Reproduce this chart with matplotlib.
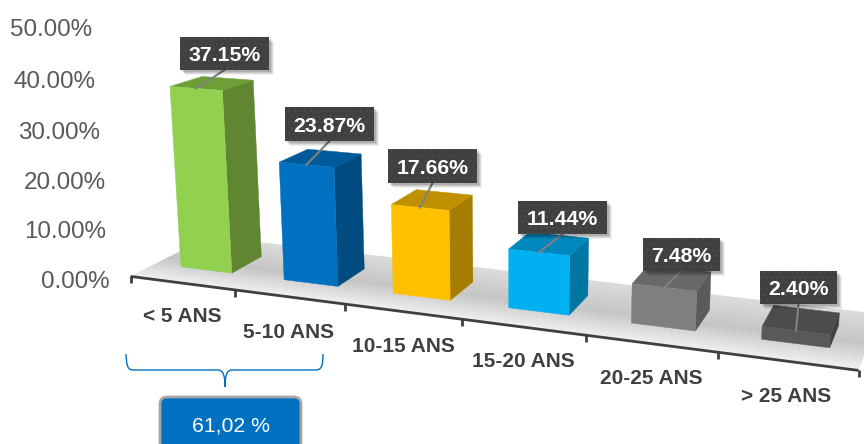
import numpy as np
import matplotlib
matplotlib.use("Agg")
import matplotlib.pyplot as plt
from matplotlib.patches import Polygon, Rectangle, FancyBboxPatch, PathPatch
from matplotlib.path import Path

plt.rcParams['font.family'] = ['Liberation Sans', 'DejaVu Sans']

# ---- data ----
categories = ["< 5 ANS", "5-10 ANS", "10-15 ANS", "15-20 ANS", "20-25 ANS", "> 25 ANS"]
values = [37.15, 23.87, 17.66, 11.44, 7.48, 2.40]
value_ticks = [0, 10, 20, 30, 40, 50]
total_label = "61,02 %"

# ---- style ----
front_colors = ["#92D050", "#0070C0", "#FFC000", "#00B0F0", "#7F7F7F", "#595959"]
side_colors = ["#608632", "#004B80", "#A67D00", "#0076A3", "#5A5A5A", "#404040"]
top_colors = ["#6E9E37", "#005A99", "#BF9000", "#0088BC", "#686868", "#4C4C4C"]

# ---- layout in image pixels ----
D0, D1 = 0.30, 0.70      # bar depth range on the floor
GAP = 0.25               # side gap in category units
tick_label_xy = [(109.5, 279), (106.5, 229), (105.5, 180), (100.5, 130), (96, 79), (92, 27)]
cat_label_xy = [(182, 314), (289, 330), (403, 344), (523, 359), (651, 376), (786, 394)]
box_centers = [(224.5, 53.5), (329.5, 124), (432.5, 166), (562.5, 217.5), (681.5, 254.5), (798.5, 287.5)]
box_sizes = [(89, 33), (89, 34), (89, 34), (89, 33), (77, 33), (77, 33)]

# perspective camera, calibrated on (category, depth, value) -> pixel
calib = [
    (0, 0, 0, 131, 277), (1, 0, 0, 235, 292), (2, 0, 0, 345, 305), (3, 0, 0, 462, 320),
    (4, 0, 0, 586, 337), (5, 0, 0, 718, 353), (6, 0, 0, 858, 372),
]
corners = [
    [(170, 87), (222, 91), (253, 80), (202, 77), (181, 267), (232, 273), (261, 256)],
    [(279, 162), (334, 167), (361, 154), (309, 149), (283, 279), (338, 286), (364, 268)],
    [(391, 204), (449, 210), (472, 195), (417, 189), (393, 293), (451, 299), (473, 281)],
    [(509, 249), (570, 253), (589, 237), (530, 233), (509, 307), (569, 315), (587, 296)],
    [(632, 283), (696, 289), (711, 272), (650, 270), (631, 323), (695, 330), (710, 311)],
    [(763, 325), (831, 334), (839, 312), (772, 310), (761, 338), (830, 347), (839, 325)],
]
for i, c in enumerate(corners):
    v = values[i]
    ul, ur = i + GAP, i + 1 - GAP
    world = [(ul, D0, v), (ur, D0, v), (ur, D1, v), (ul, D1, v), (ul, D0, 0), (ur, D0, 0), (ur, D1, 0)]
    for w, p in zip(world, c):
        calib.append((*w, *p))

A, b = [], []
for u, d, z, px, py in calib:
    A.append([u, d, z, 1, 0, 0, 0, 0, -px * u, -px * d, -px * z]); b.append(px)
    A.append([0, 0, 0, 0, u, d, z, 1, -py * u, -py * d, -py * z]); b.append(py)
P = np.append(np.linalg.lstsq(np.array(A, float), np.array(b, float), rcond=None)[0], 1.0).reshape(3, 4)


def proj(u, d, z):
    h = P @ np.array([u, d, z, 1.0])
    return h[0] / h[2], h[1] / h[2]


fig = plt.figure(figsize=(8.64, 4.44), dpi=100)
ax = fig.add_axes([0, 0, 1, 1])
ax.set_xlim(0, 864)
ax.set_ylim(444, 0)
ax.axis('off')

# floor with depth gradient: light at the axis, darkest mid-way, lighter at the back
n_strip = 60
for k in range(n_strip):
    d_a, d_b = k / n_strip, (k + 1) / n_strip
    g = np.interp((k + .5) / n_strip, [0, 0.12, 0.45, 1], [0.95, 0.90, 0.77, 0.86])
    col = (g, g, g)
    ax.add_patch(Polygon([proj(0, d_a, 0), proj(6, d_a, 0), proj(6, d_b, 0), proj(0, d_b, 0)],
                         facecolor=col, edgecolor=col, lw=0.4, zorder=1))

# category axis
ax.plot(*zip(proj(0, 0, 0), proj(6, 0, 0)), color="#404040", lw=2.0, zorder=3, solid_capstyle='butt')
for i in range(len(categories) + 1):
    x, y = proj(i, 0, 0)
    ax.plot([x, x], [y, y + 7], color="#404040", lw=2.0, zorder=3, solid_capstyle='butt')

# bars
for i, v in enumerate(values):
    ul, ur = i + GAP, i + 1 - GAP
    ax.add_patch(Polygon([proj(ur, D0, 0), proj(ur, D1, 0), proj(ur, D1, v), proj(ur, D0, v)],
                         facecolor=side_colors[i], edgecolor=side_colors[i], lw=0.3, zorder=4))
    ax.add_patch(Polygon([proj(ul, D0, v), proj(ur, D0, v), proj(ur, D1, v), proj(ul, D1, v)],
                         facecolor=top_colors[i], edgecolor=top_colors[i], lw=0.3, zorder=4))
    ax.add_patch(Polygon([proj(ul, D0, 0), proj(ur, D0, 0), proj(ur, D0, v), proj(ul, D0, v)],
                         facecolor=front_colors[i], edgecolor=front_colors[i], lw=0.3, zorder=5))

# data labels
plt.rcParams['hatch.linewidth'] = 0.6
for i, v in enumerate(values):
    cx, cy = box_centers[i]
    w, h = box_sizes[i]
    x0, y0 = cx - w / 2, cy - h / 2
    ax.plot(*zip(proj(i + .5, D0, v), (cx, y0 + h)), color="#808080", lw=1.5, zorder=6)
    for off, al in [(5, .06), (4, .08), (3, .10), (2, .12)]:
        ax.add_patch(Rectangle((x0 + off, y0 + off), w, h, facecolor='black', alpha=al, lw=0, zorder=7))
    ax.add_patch(Rectangle((x0, y0), w, h, facecolor="#404040", edgecolor="#4E4E4E", hatch='...', lw=0, zorder=8))
    ax.text(cx, cy, f"{v:.2f}%", color='white', fontsize=15.3, fontweight='bold',
            ha='center', va='center_baseline', zorder=9)

# value tick labels
for t, (x, y) in zip(value_ticks, tick_label_xy):
    ax.text(x, y, f"{t:.2f}%", color="#595959", fontsize=17.4, ha='right', va='center_baseline', zorder=9)

# category labels
for name, (x, y) in zip(categories, cat_label_xy):
    ax.text(x, y, name, color="#404040", fontsize=15, fontweight='bold', ha='center', va='center_baseline', zorder=9)

# bracket
bracket = Path(
    [(126, 354), (126.5, 364), (127, 370), (133, 370),
     (218, 370), (224, 370), (225, 378), (225, 387),
     (225, 378), (226, 370), (232, 370),
     (316, 370), (322, 370), (323, 364), (323, 354)],
    [Path.MOVETO, Path.CURVE4, Path.CURVE4, Path.CURVE4,
     Path.LINETO, Path.CURVE4, Path.CURVE4, Path.CURVE4,
     Path.CURVE4, Path.CURVE4, Path.CURVE4,
     Path.LINETO, Path.CURVE4, Path.CURVE4, Path.CURVE4])
ax.add_patch(PathPatch(bracket, facecolor='none', edgecolor="#0070C0", lw=1.0, zorder=3))

# total box
ax.add_patch(FancyBboxPatch((160, 397), 141, 60, boxstyle="round,pad=0,rounding_size=7",
                            facecolor="#0070C0", edgecolor="#A6A6A6", lw=2.0, zorder=3))
ax.text(231, 424, total_label, color='white', fontsize=15.3, ha='center', va='center_baseline', zorder=4)

fig.savefig("out.png", dpi=100)
